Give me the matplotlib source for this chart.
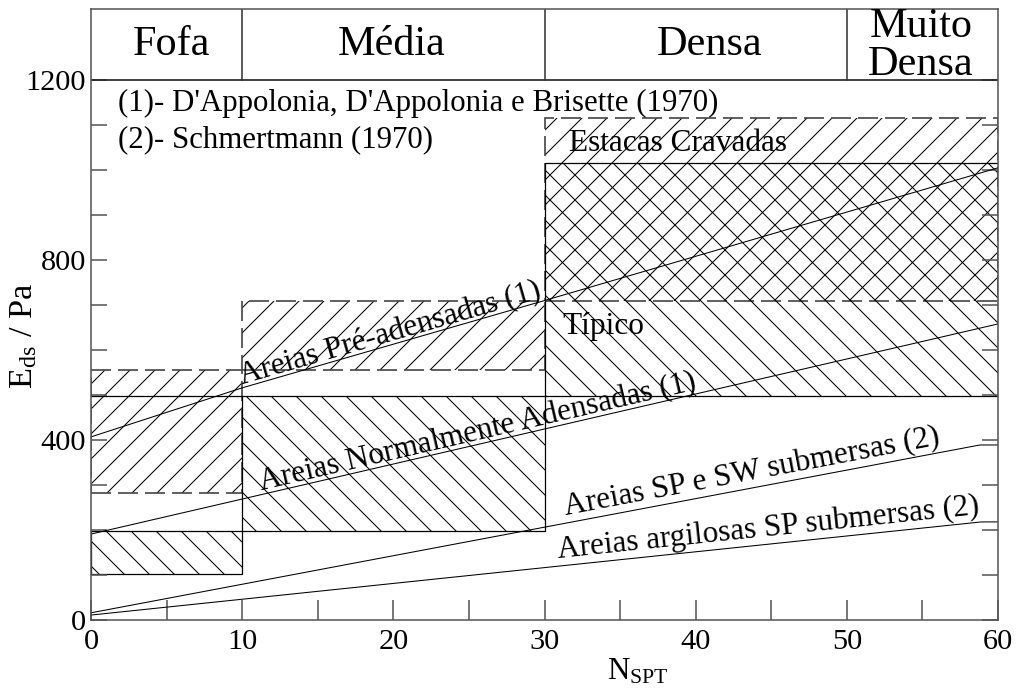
import math
import matplotlib
matplotlib.use('Agg')
import matplotlib.pyplot as plt
from matplotlib.patches import Rectangle
from matplotlib.transforms import offset_copy

plt.rcParams['font.family'] = ['Liberation Serif', 'DejaVu Serif']
plt.rcParams['mathtext.fontset'] = 'custom'
plt.rcParams['mathtext.rm'] = 'Liberation Serif'
plt.rcParams['mathtext.it'] = 'Liberation Serif:italic'
plt.rcParams['hatch.linewidth'] = 0.5

# ---------------- data ----------------
band_names = ['Fofa', 'Média', 'Densa']
band_centers = [5.3, 19.9, 40.9]
band_edges = [10, 30, 50]
band_top_name = ['Muito', 'Densa']
band_top_center = 54.9

# dashed hatched boxes "/" : Pré-adensadas (Fofa, Média) and Estacas Cravadas
dashed_x0 = [0, 10, 30]
dashed_x1 = [10, 30, 60]
dashed_low = [282, 556, 710]
dashed_high = [556, 710, 1115]

# solid hatched boxes "\" : Normalmente adensadas (Fofa, Média) and Típico
solid_x0 = [0, 10, 30]
solid_x1 = [10, 30, 60]
solid_low = [102, 198, 498]
solid_high = [198, 498, 1015]

# curves
pre_x = [0, 10, 30, 60]
pre_y = [407, 516, 710, 1005]
nor_x = [0, 60]
nor_y = [191, 658]
spsw_x = [0, 58.8, 60]
spsw_y = [16, 389, 389]
arg_x = [0, 58.9, 60]
arg_y = [11, 218, 218]

legend_lines = ["(1)- D'Appolonia, D'Appolonia e Brisette (1970)",
                "(2)- Schmertmann (1970)"]

xticks = list(range(0, 61, 10))
yticks = [0, 400, 800, 1200]

# ---------------- figure ----------------
DPI = 150
fig = plt.figure(figsize=(1020 / DPI, 698 / DPI), dpi=DPI)
ax = fig.add_axes([91 / 1020, 78 / 698, 907 / 1020, 611 / 698])
ax.set_xlim(0, 60)
ax.set_ylim(0, 1358)

spine_col = '#555555'
for s in ax.spines.values():
    s.set_color(spine_col)
    s.set_linewidth(0.75)

ax.set_xticks(xticks)
ax.set_xticks(list(range(0, 61, 5)), minor=True)
ax.set_yticks(yticks)
ax.set_yticks(list(range(0, 1201, 100)), minor=True)
ax.tick_params(which='both', direction='in', top=False, right=True,
               color=spine_col, width=0.75, labelsize=14.6)
ax.tick_params(axis='y', which='both', length=7.7, pad=2.4)
ax.tick_params(axis='x', which='both', length=9.6, pad=4.5)

# hatched boxes
for x0, x1, lo, hi in zip(dashed_x0, dashed_x1, dashed_low, dashed_high):
    ax.add_patch(Rectangle((x0, lo), x1 - x0, hi - lo, fill=False,
                           edgecolor='black', lw=0, hatch='//'))
    ax.add_patch(Rectangle((x0, lo), x1 - x0, hi - lo, fill=False,
                           edgecolor='#444444', lw=0.8,
                           linestyle=(0, (12, 4.2))))
for x0, x1, lo, hi in zip(solid_x0, solid_x1, solid_low, solid_high):
    ax.add_patch(Rectangle((x0, lo), x1 - x0, hi - lo, fill=False,
                           edgecolor='black', lw=0, hatch='\\\\'))
    ax.add_patch(Rectangle((x0, lo), x1 - x0, hi - lo, fill=False,
                           edgecolor='black', lw=0.6))
ax.plot([0, 10], [solid_high[1], solid_high[1]], color='black', lw=0.6)

# curves
for xs, ys in [(pre_x, pre_y), (nor_x, nor_y), (spsw_x, spsw_y), (arg_x, arg_y)]:
    ax.plot(xs, ys, color='black', lw=0.5)

# top band
ax.plot([0, 60], [1200, 1200], color='#222222', lw=0.8)
for e in band_edges:
    ax.plot([e, e], [1200, 1358], color='#333333', lw=0.75)
for name, c in zip(band_names, band_centers):
    ax.text(c, 1256, name, ha='center', va='baseline', fontsize=20.3)
ax.text(band_top_center, 1296, band_top_name[0], ha='center', va='baseline', fontsize=20.3)
ax.text(band_top_center, 1211, band_top_name[1], ha='center', va='baseline', fontsize=20.3)

# legend notes
ax.text(1.79, 1149, legend_lines[0], ha='left', va='center', fontsize=14.85)
ax.text(1.79, 1067, legend_lines[1], ha='left', va='center', fontsize=14.85)


def seg_angle(x0, y0, x1, y1):
    p0 = ax.transData.transform((x0, y0))
    p1 = ax.transData.transform((x1, y1))
    return math.degrees(math.atan2(p1[1] - p0[1], p1[0] - p0[0]))


def interp(xs, ys, x):
    for i in range(len(xs) - 1):
        if xs[i] <= x <= xs[i + 1]:
            t = (x - xs[i]) / (xs[i + 1] - xs[i])
            return ys[i] + t * (ys[i + 1] - ys[i])
    return ys[-1]


def line_label(text, xs, ys, xstart, seg, dy_pt):
    ang = seg_angle(xs[seg], ys[seg], xs[seg + 1], ys[seg + 1])
    tr = offset_copy(ax.transData, fig=fig, x=0, y=dy_pt, units='points')
    ax.text(xstart, interp(xs, ys, xstart), text, transform=tr,
            rotation=ang, rotation_mode='anchor', ha='left', va='baseline',
            fontsize=15)


line_label('Areias Pré-adensadas (1)', pre_x, pre_y, 10.0, 1, 1.5)
line_label('Areias Normalmente Adensadas (1)', nor_x, nor_y, 11.3, 0, 2.0)
line_label('Areias SP e SW submersas (2)', spsw_x, spsw_y, 31.4, 0, 3.8)
line_label('Areias argilosas SP submersas (2)', arg_x, arg_y, 30.9, 0, 3.8)

ax.text(33.9, 653, 'Típico', ha='center', va='center', fontsize=15)
ax.text(38.8, 1060, 'Estacas Cravadas', ha='center', va='center', fontsize=15)

# axis labels
fig.text(24 / 1020, 1 - 336 / 698, r'E$_{\mathrm{ds}}$ / Pa', rotation=90,
         ha='center', va='center', fontsize=16.5)
fig.text(607 / 1020, 18 / 698, r'N$_{\mathrm{SPT}}$', ha='left', va='baseline',
         fontsize=14.8)

fig.savefig('out.png', dpi=DPI)
